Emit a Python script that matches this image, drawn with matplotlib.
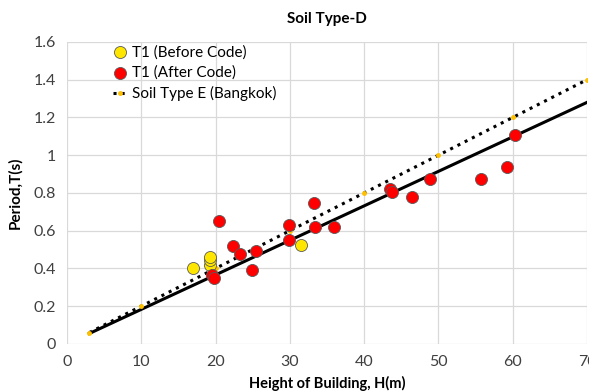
import matplotlib
matplotlib.use("Agg")
import matplotlib.pyplot as plt

plt.rcParams['font.family'] = ['Lato', 'DejaVu Sans']

# T1 before code
before_h = [17.0, 19.25, 19.25, 19.25, 31.45]
before_t = [0.404, 0.42, 0.445, 0.46, 0.525]

# T1 after code
after_h = [19.5, 19.8, 20.46, 22.4, 23.3, 24.85, 25.5, 29.9, 29.9, 33.3,
           33.4, 35.9, 43.5, 43.8, 46.5, 48.9, 55.7, 59.2, 60.3]
after_t = [0.365, 0.348, 0.652, 0.519, 0.477, 0.392, 0.494, 0.631, 0.548, 0.749,
           0.617, 0.622, 0.822, 0.804, 0.778, 0.876, 0.876, 0.937, 1.108]

# soil type E (Bangkok) reference line
soil_e_h = [3, 10, 20, 30, 40, 50, 60, 70]
soil_e_t = [0.06, 0.2, 0.4, 0.6, 0.8, 1.0, 1.2, 1.4]

# fitted line
fit_h = [3, 70]
fit_t = [0.055, 1.28]

fig = plt.figure(figsize=(5.89, 3.91), dpi=100)
ax = fig.add_axes([0.1138, 0.1205, 0.8828, 0.7721])

ax.plot(fit_h, fit_t, color='black', lw=2.2, zorder=2)
ax.plot(soil_e_h, soil_e_t, color='black', ls=':', lw=2.2, marker='o', ms=2.5,
        mfc='#FFC000', mec='#FFC000', label='Soil Type E (Bangkok)', zorder=3)
ax.scatter(before_h, before_t, s=75, c='#FFE600', edgecolors='#595959', lw=0.6,
           label='T1 (Before Code)', zorder=4)
ax.scatter(after_h, after_t, s=75, c='#FF0000', edgecolors='#595959', lw=0.6,
           label='T1 (After Code)', zorder=5)

ax.set_xlim(0, 70)
ax.set_ylim(0, 1.6)
ax.set_xticks(range(0, 71, 10))
ax.set_yticks([0, 0.2, 0.4, 0.6, 0.8, 1.0, 1.2, 1.4, 1.6])
ax.set_yticklabels(['0', '0.2', '0.4', '0.6', '0.8', '1', '1.2', '1.4', '1.6'])
ax.tick_params(length=0, labelsize=11.5, colors='#404040', pad=8)
for s in ax.spines.values():
    s.set_visible(False)
ax.grid(True, color='#d9d9d9', lw=0.9)
ax.set_axisbelow(True)

ax.set_title('Soil Type-D', fontsize=11, fontweight='bold', pad=14)
ax.set_xlabel('Height of Building, H(m)', fontsize=10.5, fontweight='bold', labelpad=5)
ax.set_ylabel('Period,T(s)', fontsize=11, fontweight='bold', labelpad=8)

h, l = ax.get_legend_handles_labels()
order = [1, 2, 0]
ax.legend([h[i] for i in order], [l[i] for i in order], loc='upper left',
          bbox_to_anchor=(0.07, 1.02), frameon=False, fontsize=11,
          handlelength=1.0, handletextpad=0.3, labelspacing=0.4, borderaxespad=0.2)

fig.savefig('out.png', dpi=100)
